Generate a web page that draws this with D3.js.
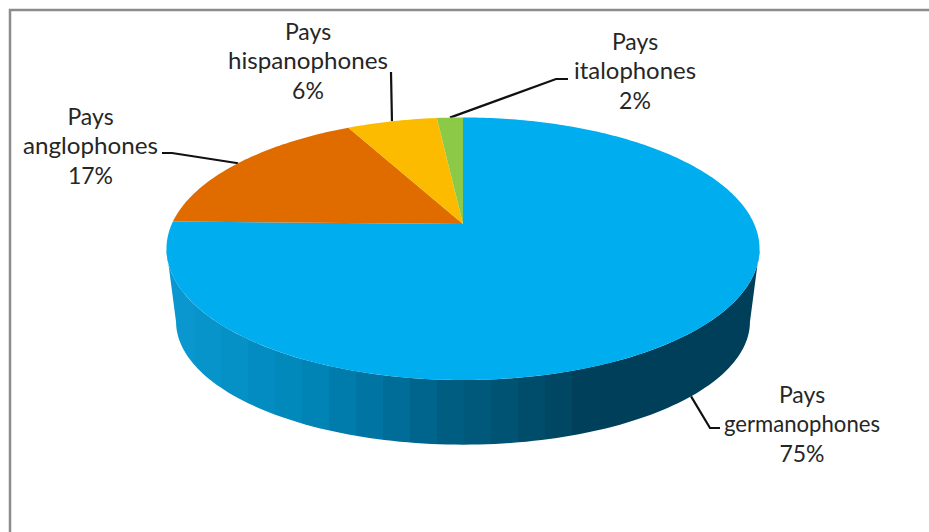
<!DOCTYPE html>
<html>
<head>
<meta charset="utf-8">
<script src="https://d3js.org/d3.v7.min.js"></script>
<style>
  html, body { margin: 0; padding: 0; background: #fff; }
  text { font-family: Lato, "Open Sans", sans-serif; font-size: 23px; fill: #262626; text-anchor: middle; }
</style>
</head>
<body>
<div id="chart"></div>
<script>
const categories = ["germanophones", "anglophones", "hispanophones", "italophones"];
const values = [75.3, 17.1, 5.9, 1.7];
const colors = ["#00adee", "#e06c00", "#fdbb00", "#8cc947"];

const labelX = [802, 90.5, 308, 635];
const labelY = [403, 125, 40, 50];
// drawn width of the category line, the original font runs wider than Lato here
const labelWidth = [156, 135, 160, 122];
// elbow of each leader line, and where it stops next to the label
const elbows = [[710, 428, 720, 428], [172, 153, 162, 153], null, [556, 79, 568, 79]];
const leaderEnd = [null, null, [391, 72], null];

const width = 929;
const height = 532;

const svg = d3.select("#chart").append("svg")
  .attr("width", width)
  .attr("height", height)
  .style("display", "block");

// the disc is tilted: a circle seen in perspective, so its centre sits above the ellipse centre
const tilt = -0.1886;
function projector(cx, cy, a, b) {
  return (angle) => {
    const u = Math.sin(angle), v = -Math.cos(angle);
    const d = 1 + tilt * v;
    return [cx + a * u / d, cy + b * v / d];
  };
}
const topDisc = projector(463, 224, 291.2, 126.6);
const bottomDisc = projector(463, 298.5, 281.8, 118.6);

const line = d3.line();

// frame
svg.append("path")
  .attr("d", line([[10, height], [10, 10], [width, 10]]))
  .attr("fill", "none")
  .attr("stroke", "#8c8c8c")
  .attr("stroke-width", 2.5);

const pie = d3.pie().sort(null).value((d) => d);
const arcs = pie(values);
const total = d3.sum(values);
const pct = d3.format(".0%");

function midAngle(d) {
  return (d.startAngle + d.endAngle) / 2;
}

// leader lines go under the pie
arcs.forEach((d, i) => {
  const disc = i === 0 ? bottomDisc : topDisc;
  const pts = [disc(midAngle(d))];
  if (elbows[i]) {
    pts.push([elbows[i][0], elbows[i][1]], [elbows[i][2], elbows[i][3]]);
  } else {
    pts.push(leaderEnd[i]);
  }
  svg.append("path")
    .attr("d", line(pts))
    .attr("fill", "none")
    .attr("stroke", "#111")
    .attr("stroke-width", 2.2);
});

// side wall: one shape, filled with a banded horizontal gradient
const wallColor = d3.scaleLinear()
  .domain([175, 300, 390, 450, 520, 590, 755])
  .range(["#0a98d0", "#0087ba", "#006f9c", "#005d82", "#00506e", "#003f5a", "#003f5a"]);

const x0 = 167, x1 = 760, band = 27;
const grad = svg.append("defs").append("linearGradient")
  .attr("id", "wall")
  .attr("gradientUnits", "userSpaceOnUse")
  .attr("x1", x0).attr("x2", x1).attr("y1", 0).attr("y2", 0);
d3.range(x0, x1, band).forEach((x) => {
  const c = wallColor(x + band / 2);
  grad.append("stop").attr("offset", (x - x0) / (x1 - x0)).attr("stop-color", c);
  grad.append("stop").attr("offset", Math.min(1, (x + band - x0) / (x1 - x0))).attr("stop-color", c);
});

const wallFrom = (101 * Math.PI) / 180, wallTo = (259 * Math.PI) / 180;
const wallAngles = d3.range(0, 121).map((j) => wallFrom + ((wallTo - wallFrom) * j) / 120);
svg.append("path")
  .attr("d", line([...wallAngles.map(topDisc), ...wallAngles.slice().reverse().map(bottomDisc)]) + "Z")
  .attr("fill", "url(#wall)");

// top face
svg.append("g")
  .selectAll("path")
  .data(arcs)
  .enter()
  .append("path")
  .attr("d", (d) => {
    const n = Math.ceil((d.endAngle - d.startAngle) * 60);
    const pts = d3.range(n + 1).map((j) => topDisc(d.startAngle + ((d.endAngle - d.startAngle) * j) / n));
    return line([[463, 224], ...pts]) + "Z";
  })
  .attr("fill", (d, i) => colors[i]);

// labels
const labels = svg.append("g")
  .selectAll("text")
  .data(arcs)
  .enter()
  .append("text")
  .attr("x", (d, i) => labelX[i])
  .attr("y", (d, i) => labelY[i]);

[(d, i) => "Pays", (d, i) => categories[i], (d) => pct(d.value / total)].forEach((fn, row) => {
  const span = labels.append("tspan")
    .attr("x", (d, i) => labelX[i])
    .attr("y", (d, i) => labelY[i] + row * 29.3)
    .text(fn);
  if (row === 1) {
    span.attr("textLength", (d, i) => labelWidth[i])
      .attr("lengthAdjust", "spacingAndGlyphs");
  }
});
</script>
</body>
</html>
